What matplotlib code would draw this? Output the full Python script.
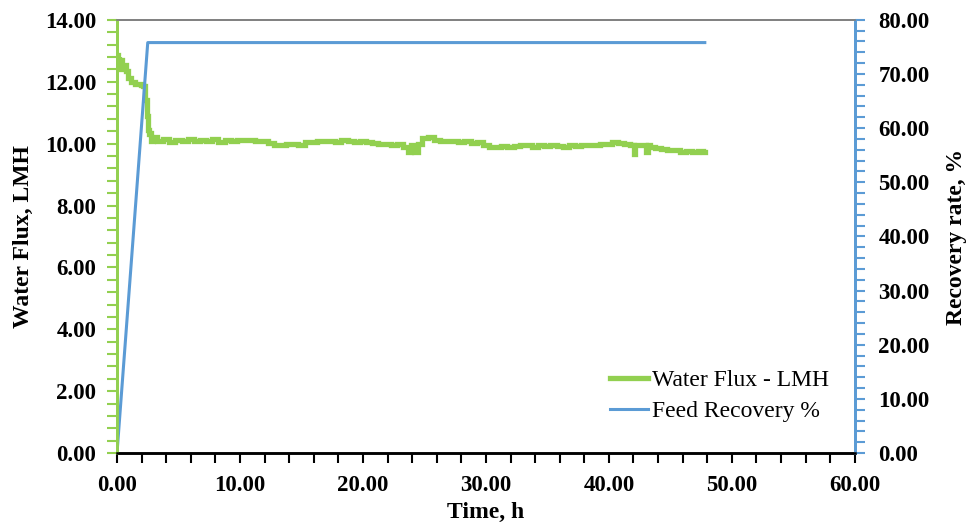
import matplotlib
matplotlib.use("Agg")
import matplotlib.pyplot as plt
from matplotlib.ticker import MultipleLocator, FormatStrFormatter

# water flux (LMH)
flux_t = [0.00, 0.05, 0.10, 0.15, 0.25, 0.35, 0.45, 0.60, 0.80, 1.05, 1.30, 1.55,
          1.80, 2.05, 2.20, 2.35, 2.45, 2.55, 2.65, 2.75, 2.85,
          3.0, 3.5, 4.0, 4.5, 5.0, 5.5, 6.0, 6.5, 7.0, 7.5, 8.0, 8.5, 9.0, 9.5,
          10.0, 10.5, 11.0, 11.5, 12.0, 12.5, 13.0, 13.5, 14.0, 14.5, 15.0, 15.5,
          16.0, 16.5, 17.0, 17.5, 18.0, 18.5, 19.0, 19.5, 20.0, 20.5, 21.0, 21.5,
          22.0, 22.5, 23.0, 23.5, 23.8, 24.0, 24.3, 24.6, 25.0, 25.5, 26.0, 26.5,
          27.0, 27.5, 28.0, 28.5, 29.0, 29.5, 30.0, 30.5, 31.0, 31.5, 32.0, 32.5,
          33.0, 33.5, 34.0, 34.5, 35.0, 35.5, 36.0, 36.5, 37.0, 37.5, 38.0, 38.5,
          39.0, 39.5, 40.0, 40.5, 41.0, 41.5, 42.0, 42.1, 42.2, 42.5, 43.0, 43.1,
          43.2, 43.5, 44.0, 44.5, 45.0, 45.5, 46.0, 46.5, 47.0, 47.5, 47.8]
flux = [12.50, 12.85, 12.45, 12.80, 12.40, 12.70, 12.50, 12.55, 12.35, 12.12, 11.98, 11.92,
        11.94, 11.90, 11.85, 11.40, 10.90, 10.45, 10.30, 10.35, 10.10,
        10.20, 10.08, 10.14, 10.06, 10.12, 10.10, 10.15, 10.07, 10.13, 10.09, 10.14, 10.06, 10.12, 10.10,
        10.13, 10.12, 10.11, 10.10, 10.08, 10.03, 9.97, 9.94, 9.98, 10.00, 9.97, 10.04,
        10.06, 10.09, 10.08, 10.10, 10.06, 10.11, 10.09, 10.05, 10.10, 10.04, 10.03, 10.00,
        9.98, 9.95, 9.99, 9.90, 9.72, 9.95, 9.74, 10.00, 10.18, 10.20, 10.12, 10.10,
        10.07, 10.09, 10.05, 10.07, 10.03, 10.05, 9.95, 9.90, 9.89, 9.91, 9.90, 9.93,
        9.96, 9.95, 9.90, 9.94, 9.92, 9.95, 9.93, 9.90, 9.95, 9.93, 9.95, 9.96,
        9.97, 9.99, 10.00, 10.04, 10.01, 9.99, 9.96, 9.65, 9.97, 9.96, 9.97, 9.72,
        9.95, 9.90, 9.85, 9.83, 9.80, 9.78, 9.74, 9.77, 9.73, 9.76, 9.73]

# feed recovery (%)
rec_t = [0.0, 2.5, 47.8]
recovery = [0.0, 75.8, 75.8]

green = "#92d050"
blue = "#5b9bd5"

plt.rcParams["font.family"] = ["Liberation Serif", "DejaVu Serif"]

fig = plt.figure(figsize=(9.67, 5.22), dpi=100)
ax1 = fig.add_axes([0.121, 0.132, 0.763, 0.830])
ax2 = ax1.twinx()

l1, = ax1.plot(flux_t, flux, color=green, lw=3.8, drawstyle="steps-mid",
               solid_joinstyle="miter", label="Water Flux - LMH")
l2, = ax2.plot(rec_t, recovery, color=blue, lw=2.2, label="Feed Recovery %")

ax1.set_xlim(0, 60)
ax1.set_ylim(0, 14)
ax2.set_ylim(0, 80)

ax1.xaxis.set_major_locator(MultipleLocator(10))
ax1.xaxis.set_minor_locator(MultipleLocator(2))
ax1.yaxis.set_major_locator(MultipleLocator(2))
ax1.yaxis.set_minor_locator(MultipleLocator(0.4))
ax2.yaxis.set_major_locator(MultipleLocator(10))
ax2.yaxis.set_minor_locator(MultipleLocator(2))
for a in (ax1.xaxis, ax1.yaxis, ax2.yaxis):
    a.set_major_formatter(FormatStrFormatter("%.2f"))

ax1.tick_params(axis="x", which="both", direction="out", length=7, width=1.5,
                color="black", labelsize=16.5, pad=9)
ax1.tick_params(axis="y", which="both", direction="out", length=7, width=1.5,
                color=green, labelsize=16.5, pad=8)
ax2.tick_params(axis="y", which="both", direction="out", length=7, width=1.5,
                color=blue, labelsize=16.5, pad=10)
for lab in ax1.get_xticklabels() + ax1.get_yticklabels() + ax2.get_yticklabels():
    lab.set_fontweight("bold")

for ax in (ax1, ax2):
    ax.spines["top"].set_color("#7f7f7f")
    ax.spines["top"].set_linewidth(1.2)
    ax.spines["bottom"].set_color("black")
    ax.spines["bottom"].set_linewidth(1.8)
    ax.spines["left"].set_color(green)
    ax.spines["left"].set_linewidth(2.0)
    ax.spines["right"].set_color(blue)
    ax.spines["right"].set_linewidth(2.0)

ax1.set_xlabel("Time, h", fontsize=17, fontweight="bold", labelpad=4)
ax1.set_ylabel("Water Flux, LMH", fontsize=17, fontweight="bold", labelpad=8)
ax2.set_ylabel("Recovery rate, %", fontsize=17, fontweight="bold", labelpad=12)

ax2.legend(handles=[l1, l2], loc="lower left", bbox_to_anchor=(0.655, 0.05),
           frameon=False, fontsize=17, handlelength=1.6, handletextpad=0.2,
           labelspacing=0.4, borderaxespad=0)

fig.savefig("out.png", dpi=100)
